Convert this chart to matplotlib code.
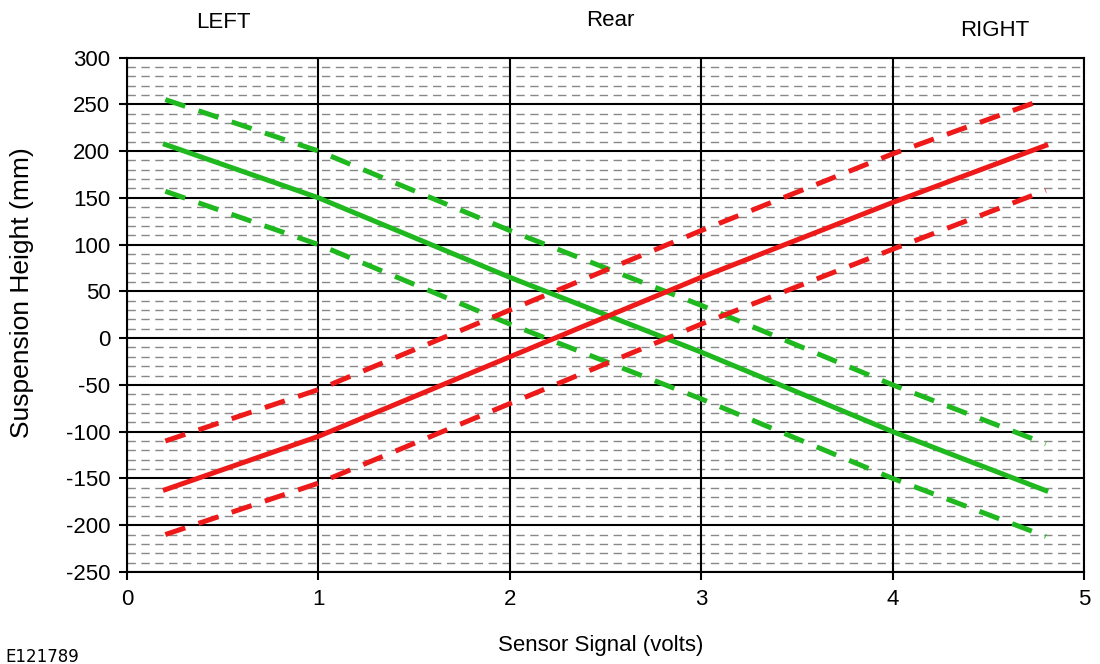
import matplotlib.pyplot as plt
import numpy as np

plt.rcParams['font.family'] = ['Liberation Sans', 'DejaVu Sans']
plt.rcParams['axes.unicode_minus'] = False

# sensor voltage sample points
volts = [0.2, 1, 2, 3, 4, 4.8]

# left (green) curves
left_nom = [207, 150, 65, -15, -100, -163]
left_hi = [255, 200, 115, 35, -50, -113]
left_lo = [157, 100, 15, -65, -150, -212]

# right (red) curves
right_nom = [-162, -105, -20, 65, 145, 206]
right_hi = [-110, -55, 30, 115, 197, 256]
right_lo = [-210, -155, -70, 15, 95, 158]

xticks = [0, 1, 2, 3, 4, 5]
yticks = [-250, -200, -150, -100, -50, 0, 50, 100, 150, 200, 250, 300]

green = '#1fb81f'
red = '#ee1a1a'

fig = plt.figure(figsize=(11, 6.64), dpi=100)
ax = fig.add_axes([0.1155, 0.1386, 0.8700, 0.7748])

# minor dashed grid every 10 mm
for y in np.arange(-250, 300, 10):
    if y % 50 != 0:
        ax.axhline(y, color='#888888', lw=1, ls=(0, (6, 4)), zorder=1)
for y in yticks:
    ax.axhline(y, color='black', lw=1.5, zorder=2)
for x in xticks:
    ax.axvline(x, color='black', lw=1.5, zorder=2)

dash = (0, (4.2, 2.8))
ax.plot(volts, left_hi, color=green, lw=3.6, ls=dash, zorder=3)
ax.plot(volts, left_nom, color=green, lw=3.6, zorder=3)
ax.plot(volts, left_lo, color=green, lw=3.6, ls=dash, zorder=3)
ax.plot(volts, right_hi, color=red, lw=3.6, ls=dash, zorder=4)
ax.plot(volts, right_nom, color=red, lw=3.6, zorder=4)
ax.plot(volts, right_lo, color=red, lw=3.6, ls=dash, zorder=4)

ax.set_xlim(0, 5)
ax.set_ylim(-250, 300)
ax.set_xticks(xticks)
ax.set_yticks(yticks)
ax.tick_params(labelsize=16, length=6, width=1.5, direction='out', pad=6)
for s in ax.spines.values():
    s.set_linewidth(1.5)

fig.text(22 / 1100, 1 - 293 / 664, 'Suspension Height (mm)', fontsize=19,
         rotation=90, ha='center', va='center')
fig.text(601 / 1100, 1 - 645 / 664, 'Sensor Signal (volts)', fontsize=16,
         ha='center', va='center')
fig.text(5 / 1100, 1 - 657 / 664, 'E121789', fontsize=12, ha='left', va='center',
         family=['DejaVu Sans'])
fig.text(223 / 1100, 1 - 23 / 664, 'LEFT', fontsize=16, ha='center', va='center')
fig.text(610 / 1100, 1 - 20 / 664, 'Rear', fontsize=16, ha='center', va='center')
fig.text(995 / 1100, 1 - 30 / 664, 'RIGHT', fontsize=16, ha='center', va='center')

fig.savefig('out.png', dpi=100)
